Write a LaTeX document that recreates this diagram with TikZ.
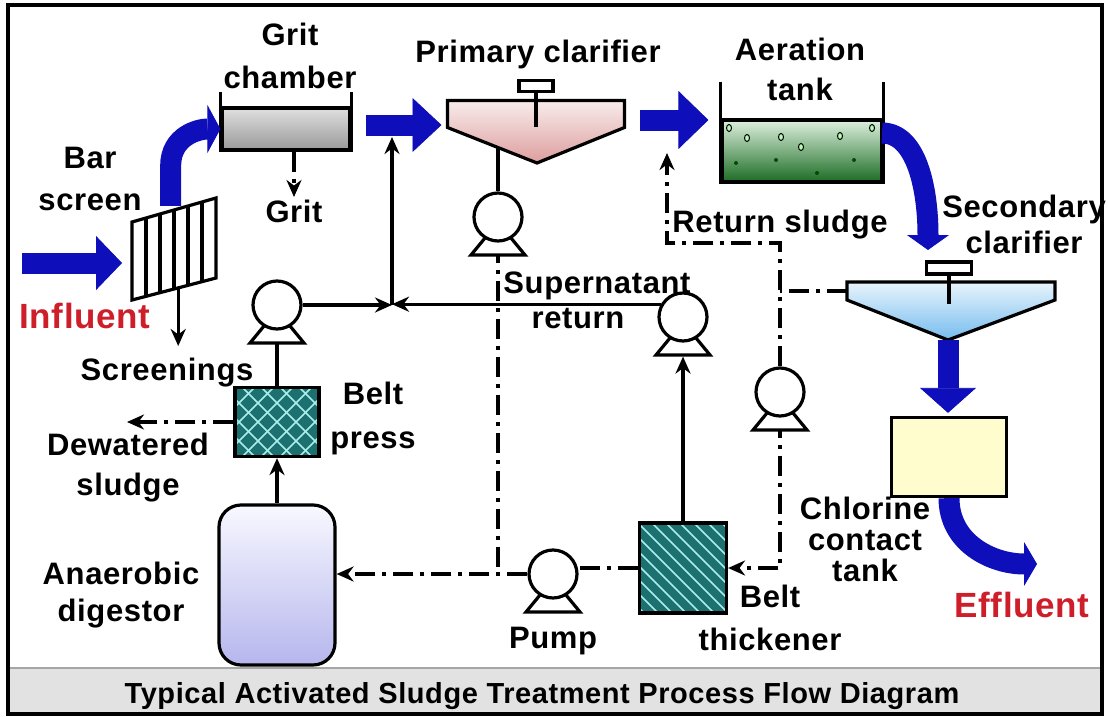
\documentclass[tikz,border=0pt]{standalone}
\usepackage{fontspec}
\setmainfont{Liberation Sans}[LetterSpace=2]
\usetikzlibrary{arrows.meta,positioning,calc,backgrounds}

\definecolor{flowblue}{RGB}{14,14,186}
\definecolor{txtred}{RGB}{206,30,42}
\definecolor{beltfill}{RGB}{28,112,112}
\definecolor{beltline}{RGB}{170,238,235}
\definecolor{clartop}{RGB}{248,236,236}
\definecolor{clarbot}{RGB}{222,158,158}
\definecolor{sectop}{RGB}{232,244,252}
\definecolor{secbot}{RGB}{118,188,238}
\definecolor{aertop}{RGB}{222,240,222}
\definecolor{aerbot}{RGB}{28,108,36}
\definecolor{digtop}{RGB}{248,248,255}
\definecolor{digbot}{RGB}{182,182,238}
\definecolor{cctfill}{RGB}{255,253,205}
\definecolor{stripgray}{RGB}{226,226,226}

\begin{document}
\begin{tikzpicture}[x=1pt,y=-1pt,
    lbl/.style={font=\fontsize{31}{#1}\selectfont\bfseries,align=center,inner sep=0pt,anchor=north},
    lbl/.default=40,
    redlbl/.style={lbl,font=\fontsize{35}{38}\selectfont\bfseries,text=txtred},
    pipe/.style={line width=3.2pt},
    arr/.style={pipe,-{Stealth[length=17pt,width=15pt]}},
    dashdot/.style={pipe,dash pattern=on 20pt off 7pt on 4pt off 7pt},
    dasharr/.style={dashdot,-{Stealth[length=17pt,width=15pt]}},
    flow/.style 2 args={line width=21pt,draw=flowblue,-{Triangle[length=#1,width=#2,line width=0.8pt]}},
    pump/.style={circle,draw,pipe,fill=white,minimum size=48pt,inner sep=0pt},
    belt/.style={draw,pipe,fill=beltfill},
  ]
  \useasboundingbox (0,0) rectangle (1108,717);

  % frame and title strip
  \fill[stripgray] (9,668) rectangle (1100,712);
  \draw[gray!70,line width=1.5pt] (9,668) -- (1100,668);
  \draw[line width=4.5pt] (8,5) rectangle (1102,714);
  \node[font=\fontsize{29}{32}\selectfont\bfseries,inner sep=0pt,anchor=base] (title) at (542,703)
    {Typical Activated Sludge Treatment Process Flow Diagram};

  % bar screen
  \coordinate (bsTL) at (132,222);
  \coordinate (bsTR) at (216,198);
  \coordinate (bsBR) at (216,278);
  \coordinate (bsBL) at (132,300);
  \draw[pipe,fill=white] (bsTL) -- (bsTR) -- (bsBR) -- (bsBL) -- cycle;
  \foreach \i in {1,...,5}
    \draw[pipe] ($(bsTL)!\i/6!(bsTR)$) -- ($(bsBL)!\i/6!(bsBR)$);

  % grit chamber
  \node[draw,pipe,minimum width=128pt,minimum height=42pt,top color=gray!25,bottom color=gray!80] (grit) at (286,129) {};
  \draw[pipe] (grit.south west) -- ++(0,-60);
  \draw[pipe] (grit.south east) -- ++(0,-60);

  % primary clarifier
  \node[minimum width=177pt,minimum height=27pt,inner sep=0pt,outer sep=0pt] (prim) at (536,114) {};
  \coordinate (primapex) at (537,163);
  \draw[pipe,top color=clartop,bottom color=clarbot] (prim.north west) -- (prim.north east)
    -- (prim.south east) -- (primapex) -- (prim.south west) -- cycle;
  \node[draw,pipe,fill=white,minimum width=34pt,minimum height=11pt,inner sep=0pt] (pdrive) at (536,86) {};
  \draw[pipe] (pdrive.south) -- ++(0,34);

  % aeration tank
  \node[draw,pipe,minimum width=160pt,minimum height=62pt,top color=aertop,bottom color=aerbot] (aer) at (802,151) {};
  \draw[pipe] (aer.south west) -- ++(0,-102);
  \draw[pipe] (aer.south east) -- ++(0,-102);
  \foreach \x/\y in {729/128,747/138,781/137,801/147,840/136,872/128}
    \draw[line width=1pt,fill=white!70!green] (\x,\y) ellipse (2.5pt and 3.5pt);
  \foreach \x/\y in {736/163,776/160,817/173,854/160}
    \fill[black!70!green] (\x,\y) circle (2pt);

  % secondary clarifier
  \node[minimum width=208pt,minimum height=18pt,inner sep=0pt,outer sep=0pt] (sec) at (951,291) {};
  \coordinate (secapex) at (948,340);
  \draw[pipe,top color=sectop,bottom color=secbot] (sec.north west) -- (sec.north east)
    -- (sec.south east) -- (secapex) -- (sec.south west) -- cycle;
  \node[draw,pipe,fill=white,minimum width=45pt,minimum height=12pt,inner sep=0pt] (sdrive) at (949,268) {};
  \draw[pipe] (sdrive.south) -- ++(0,28);

  % chlorine contact tank
  \node[draw,pipe,fill=cctfill,minimum width=115pt,minimum height=79pt] (cct) at (949,457) {};

  % digestor and belts
  \node[draw,pipe,rounded corners=22pt,top color=digtop,bottom color=digbot,
    minimum width=116pt,minimum height=160pt] (dig) at (277,585) {};
  \node[belt,minimum width=84pt,minimum height=69pt,
    path picture={\foreach \i in {-5,...,5}{
      \draw[beltline,line width=1.5pt] ($(path picture bounding box.center)+(\i*19-60,-60)$) -- ++(120,120);
      \draw[beltline,line width=1.5pt] ($(path picture bounding box.center)+(\i*19-60,60)$) -- ++(120,-120);}}]
    (bp) at (277,422) {};
  \node[belt,minimum width=87pt,minimum height=90pt,
    path picture={\foreach \i in {-7,...,7}
      \draw[beltline,line width=1.5pt] ($(path picture bounding box.center)+(\i*14-60,-60)$) -- ++(120,120);}]
    (thk) at (683,568) {};

  % pumps
  \node[pump] (pa) at (498,217) {};
  \node[pump] (pb) at (277,305) {};
  \node[pump] (pc) at (683,317) {};
  \node[pump] (pd) at (553,574) {};
  \node[pump] (pe) at (780,392) {};

  % labels
  \node[lbl=43] (gritlbl) at (290,23) {Grit\\chamber};
  \node[lbl=42] (barlbl) at (90,147) {Bar\\screen};
  \node[lbl] (gritout) at (294,200) {Grit};
  \node[lbl] (prilbl) at (538,40) {Primary clarifier};
  \node[lbl] (aerlbl) at (800,38) {Aeration\\tank};
  \node[lbl=36] (seclbl) at (1024,195) {Secondary\\clarifier};
  \node[lbl] (rslbl) at (780,210) {Return sludge};
  \node[lbl] (suplbl) at (597,272) {Supernatant};
  \node[lbl] (retlbl) at (578,308) {return};
  \node[redlbl] (inlbl) at (85,303) {Influent};
  \node[lbl] (scrlbl) at (167,358) {Screenings};
  \node[lbl=44] (bplbl) at (373,382) {Belt\\press};
  \node[lbl] (dwlbl) at (128,433) {Dewatered\\sludge};
  \node[lbl=37] (diglbl) at (121,562) {Anaerobic\\digestor};
  \node[lbl,below=27pt of pd] (pumplbl) {Pump};
  \node[lbl=43] (btlbl) at (770,585) {Belt\\thickener};
  \node[lbl=31] (cctlbl) at (865,497) {Chlorine\\contact\\tank};
  \node[redlbl] (efflbl) at (1022,592) {Effluent};

  % free ends
  \coordinate (jn) at (392,305);
  \coordinate (infl) at (22,263);
  \coordinate (gout) at (366,125);
  \coordinate (pout) at (640,120);
  \coordinate (aout) at (882,133);
  \coordinate (secin) at (928,250);
  \coordinate (effout) at (1037,564);
  \coordinate (rsbend) at (667,243);
  \coordinate (rstip) at (667,153);
  \coordinate (dwtip) at (127,422);
  \coordinate (scrtop) at ($(bsBL)!0.55!(bsBR)$);

  % sludge and return lines
  \begin{scope}[on background layer]
    \fill[white] (0,0) rectangle (1108,717);
    \draw[pipe] (pa) -- (pa |- prim.south);
    \draw[dashdot] (pa) -- (pa |- pd);
    \draw[dashdot] (thk.west) -- (thk.west -| pd);
    \draw[dasharr] (pd) -- (pd -| dig.east);
    \draw[arr] (dig.north) -- (bp.south);
    \draw[pipe] (bp) -- (pb);
    \draw[arr] (pb) -- (jn);
    \draw[arr] (pc.150) -- (pc.150 -| jn);
    \draw[arr,shorten >=12pt] (jn) -- (jn |- gout);
    \draw[arr,shorten >=14pt] (thk.north) -- (pc.south);
    \draw[dashdot] (sec.west) -- (sec.west -| pe);
    \draw[dasharr] (pe) |- (rsbend) -- (rstip);
    \draw[dasharr] (pe) |- (thk.east);
    \draw[dasharr] (bp.west) -- (dwtip);
    \draw[dasharr,shorten >=3pt] (grit.south -| gritout) -- (gritout.north);
    \draw[arr,shorten >=12pt] (scrtop) -- (scrtop |- scrlbl.north);
    \foreach \p in {pa,pb,pc,pd,pe}
      \draw[pipe,fill=white] ($(\p)+(-13,21)$) -- ($(\p)+(13,21)$) -- ($(\p)+(27,38)$) -- ($(\p)+(-27,38)$) -- cycle;
  \end{scope}

  % main flow
  \draw[flow={26pt}{54pt},shorten >=10pt] (infl) -- (infl -| bsTL);
  \draw[flow={13pt}{48pt}] ($(bsTL)!0.46!(bsTR)$) ++(0,-5) -- ++(0,-40)
    .. controls +(0,-30) and +(-22,0) .. (grit.west);
  \draw[flow={29pt}{54pt},shorten >=6pt] (gout) -- (gout -| prim.west);
  \draw[flow={30pt}{58pt},shorten >=12pt] (pout) -- (pout -| aer.west);
  \draw[flow={15pt}{42pt}] (aout) .. controls +(35,0) and +(0,-60) .. (secin);
  \draw[flow={25pt}{56pt},shorten >=3pt] (secapex) -- (secapex |- cct.north);
  \draw[flow={13pt}{44pt}] (cct.south) .. controls +(0,45) and +(-45,0) .. (effout);
\end{tikzpicture}
\end{document}
